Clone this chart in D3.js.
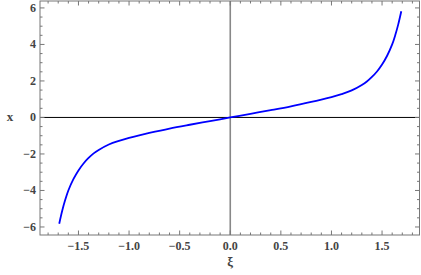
<!DOCTYPE html>
<html lang="en">
<head>
    <meta charset="UTF-8">
    <title>x vs xi</title>
    <script src="https://d3js.org/d3.v7.min.js"></script>
    <style>
        body { margin: 0; background: #fff; }
        .tick-label {
            font-family: "Liberation Serif", "DejaVu Serif", serif;
            font-size: 12px;
            font-weight: bold;
            fill: #444;
        }
        .axis-title {
            font-family: "Liberation Serif", "DejaVu Serif", serif;
            font-size: 13px;
            font-weight: bold;
            fill: #444;
        }
    </style>
</head>
<body>
    <svg width="421" height="275"></svg>
    <script>
        // curve
        const xi = [-1.69, -1.66, -1.63, -1.6, -1.55, -1.5, -1.45, -1.4, -1.35, -1.3, -1.2, -1.1, -1.0, -0.9, -0.8, -0.6, -0.4, -0.2, 0,
                    0.2, 0.4, 0.6, 0.8, 0.9, 1.0, 1.1, 1.2, 1.3, 1.35, 1.4, 1.45, 1.5, 1.55, 1.6, 1.63, 1.66, 1.69];
        const xv = [-5.82, -5.1, -4.5, -4.0, -3.38, -2.9, -2.52, -2.22, -1.97, -1.78, -1.48, -1.28, -1.12, -0.98, -0.85, -0.61, -0.4, -0.2, 0,
                    0.2, 0.4, 0.61, 0.85, 0.98, 1.12, 1.28, 1.48, 1.78, 1.97, 2.22, 2.52, 2.9, 3.38, 4.0, 4.5, 5.1, 5.82];
        const xTicks = [-1.5, -1.0, -0.5, 0.0, 0.5, 1.0, 1.5];
        const yTicks = [-6, -4, -2, 0, 2, 4, 6];

        const svg = d3.select("svg");
        const pLeft = 40, pRight = 419.5, pTop = 1, pBottom = 235;

        const x = d3.scaleLinear().domain([-1.88, 1.87]).range([pLeft, pRight]);
        const y = d3.scaleLinear().domain([-6.44, 6.38]).range([pBottom, pTop]);

        const frameColor = "#777";

        // zero lines
        svg.append("line")
            .attr("x1", pLeft).attr("x2", pRight)
            .attr("y1", y(0)).attr("y2", y(0))
            .attr("stroke", "#000").attr("stroke-width", 1);
        svg.append("line")
            .attr("x1", x(0)).attr("x2", x(0))
            .attr("y1", pTop).attr("y2", pBottom)
            .attr("stroke", "#888").attr("stroke-width", 1.6);

        // curve
        const pts = xi.map((d, i) => [d, xv[i]]);
        svg.append("path")
            .datum(pts)
            .attr("fill", "none")
            .attr("stroke", "#0000ff")
            .attr("stroke-width", 1.8)
            .attr("d", d3.line().x(d => x(d[0])).y(d => y(d[1])).curve(d3.curveCatmullRom.alpha(0.5)));

        // frame
        svg.append("rect")
            .attr("x", pLeft).attr("y", pTop)
            .attr("width", pRight - pLeft).attr("height", pBottom - pTop)
            .attr("fill", "none").attr("stroke", frameColor).attr("stroke-width", 1);

        // ticks, inward on all four sides
        const g = svg.append("g").attr("stroke", frameColor).attr("stroke-width", 1);
        const xMinor = d3.range(-18, 19).map(d => d / 10);
        xMinor.forEach(v => {
            const major = xTicks.some(t => Math.abs(t - v) < 1e-6);
            const len = major ? 4.5 : 2.5;
            g.append("line").attr("x1", x(v)).attr("x2", x(v)).attr("y1", pBottom).attr("y2", pBottom - len);
            g.append("line").attr("x1", x(v)).attr("x2", x(v)).attr("y1", pTop).attr("y2", pTop + len);
        });
        const yMinor = d3.range(-12, 13).map(d => d / 2);
        yMinor.forEach(v => {
            const major = yTicks.includes(v);
            const len = major ? 4.5 : 2.5;
            g.append("line").attr("y1", y(v)).attr("y2", y(v)).attr("x1", pLeft).attr("x2", pLeft + len);
            g.append("line").attr("y1", y(v)).attr("y2", y(v)).attr("x1", pRight).attr("x2", pRight - len);
        });

        // tick labels
        svg.selectAll(".xl").data(xTicks).enter().append("text")
            .attr("class", "tick-label")
            .attr("x", d => x(d)).attr("y", pBottom + 15)
            .attr("text-anchor", "middle")
            .text(d => d3.format(".1f")(d).replace("-", "\u2212"));
        svg.selectAll(".yl").data(yTicks).enter().append("text")
            .attr("class", "tick-label")
            .attr("x", pLeft - 4).attr("y", d => y(d) + 4)
            .attr("text-anchor", "end")
            .text(d => String(d).replace("-", "\u2212"));

        // axis titles
        svg.append("text").attr("class", "axis-title")
            .attr("x", 10).attr("y", y(0) + 4)
            .attr("text-anchor", "middle").text("x");
        svg.append("text").attr("class", "axis-title")
            .attr("x", x(0)).attr("y", 266)
            .attr("text-anchor", "middle").text("ξ");
    </script>
</body>
</html>
